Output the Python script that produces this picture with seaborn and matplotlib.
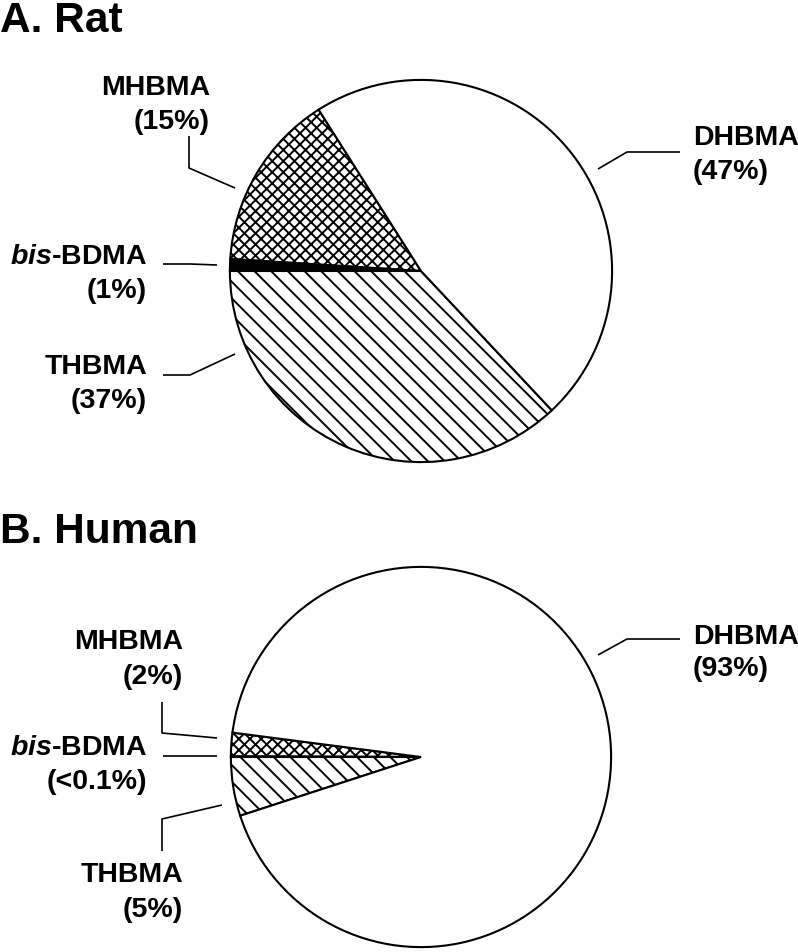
import matplotlib
matplotlib.use('Agg')
from matplotlib import pyplot as plt
import seaborn as sns

# data
compounds = ['MHBMA', 'bis-BDMA', 'THBMA', 'DHBMA']
ratValues = [15, 1, 37, 47]
ratText = ['(15%)', '(1%)', '(37%)', '(47%)']
humanValues = [2, 0.05, 5, 93]
humanText = ['(2%)', '(<0.1%)', '(5%)', '(93%)']

hatches = ['xxx', '', '\\\\', '']
colors = ['white', 'black', 'white', 'white']

sns.set_theme(style='white')
plt.rcParams['font.family'] = ['Liberation Sans', 'DejaVu Sans']
plt.rcParams['mathtext.fontset'] = 'custom'
plt.rcParams['mathtext.it'] = 'Liberation Sans:italic:bold'
plt.rcParams['mathtext.rm'] = 'Liberation Sans:bold'
plt.rcParams['hatch.linewidth'] = 1.4
plt.rcParams['hatch.color'] = 'black'

W, H = 798, 953
fig = plt.figure(figsize=(W / 100, H / 100), dpi=100)
fig.patch.set_facecolor('white')

# overlay axis in pixel coordinates for titles, labels and leader lines
over = fig.add_axes([0, 0, 1, 1])
over.set_xlim(0, W)
over.set_ylim(H, 0)
over.axis('off')


def drawPie(values, cx, cy, r):
    ax = fig.add_axes([(cx - r) / W, 1 - (cy + r) / H, 2 * r / W, 2 * r / H])
    start = 180 - 3.6 * sum(values[:2]) * 100 / sum(values)
    wedges, _ = ax.pie(values, colors=colors, hatch=hatches, startangle=start,
                       counterclock=True, radius=1,
                       wedgeprops={'edgecolor': 'black', 'linewidth': 1.5})
    ax.set_xlim(-1.01, 1.01)
    ax.set_ylim(-1.01, 1.01)
    ax.axis('off')
    return ax


def label(name, pct, x, y1, y2, ha):
    if name.startswith('bis'):
        name = r'$\mathit{bis}$-BDMA'
    over.text(x, y1, name, ha=ha, va='center', fontsize=20.5, fontweight='bold', color='black')
    over.text(x, y2, pct, ha=ha, va='center', fontsize=20.5, fontweight='bold', color='black')


def leader(xs, ys):
    over.plot(xs, ys, color='black', linewidth=1.2, solid_capstyle='butt')


# A. Rat
over.text(0, 32, 'A. Rat', ha='left', va='baseline', fontsize=30.5, fontweight='bold', color='black')
drawPie(ratValues, 421, 272, 193)
label(compounds[0], ratText[0], 210, 88, 122, 'right')
leader([189, 189, 235], [137, 169, 189])
label(compounds[1], ratText[1], 147, 257, 291, 'right')
leader([163, 190, 217], [265, 265, 266])
label(compounds[2], ratText[2], 147, 367, 401, 'right')
leader([163, 190, 235], [376, 376, 355])
label(compounds[3], ratText[3], 693, 138, 172, 'left')
leader([598, 627, 680], [170, 153, 153])

# B. Human
over.text(0, 543, 'B. Human', ha='left', va='baseline', fontsize=30.5, fontweight='bold', color='black')
drawPie(humanValues, 421, 758, 192)
label(compounds[0], humanText[0], 183, 642, 677, 'right')
leader([162, 162, 217], [703, 734, 739])
label(compounds[1], humanText[1], 147, 748, 782, 'right')
leader([163, 217], [757, 757])
label(compounds[2], humanText[2], 183, 875, 910, 'right')
leader([162, 162, 222], [852, 820, 806])
label(compounds[3], humanText[3], 693, 637, 669, 'left')
leader([598, 627, 680], [656, 640, 640])

plt.savefig('out.png', dpi=100, facecolor='white')
plt.close()
